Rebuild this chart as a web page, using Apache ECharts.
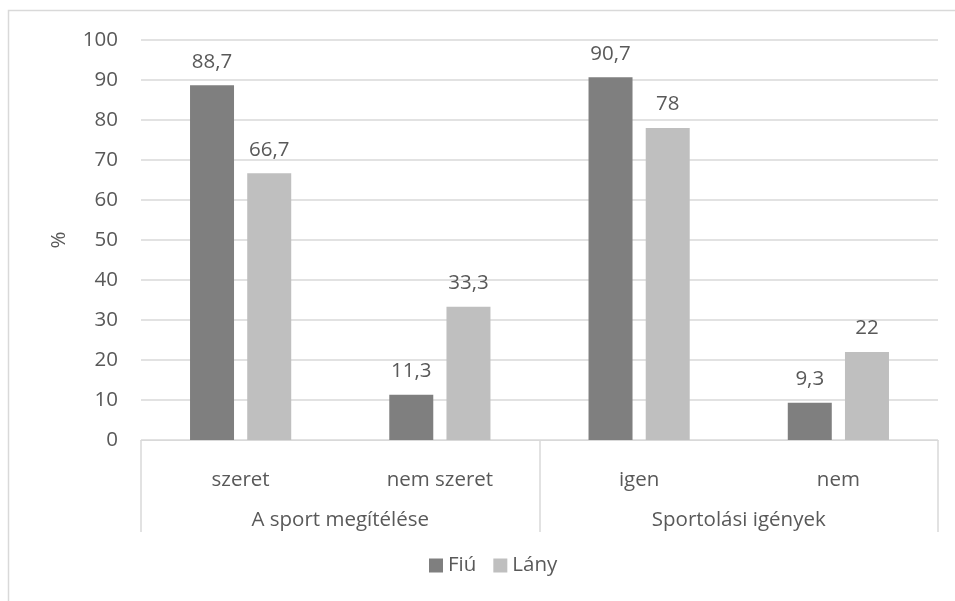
<!DOCTYPE html>
<html>
<head>
<meta charset="utf-8">
<script src="https://cdn.jsdelivr.net/npm/echarts@6/dist/echarts.min.js"></script>
<style>html,body{margin:0;padding:0;background:#fff;}#c{width:955px;height:601px;}</style>
</head>
<body>
<div id="c"></div>
<script>
const categories = ['szeret', 'nem szeret', 'igen', 'nem'];
const groups = ['A sport megítélése', 'Sportolási igények'];
const seriesNames = ['Fiú', 'Lány'];
const fiu = [88.7, 11.3, 90.7, 9.3];
const lany = [66.7, 33.3, 78, 22];
const yTicks = { min: 0, max: 100, interval: 10 };

const FONT = 'Open Sans';
const FS = 20.5;
const TXT = '#595959';
const GRID = '#d9d9d9';
const fmt = p => String(p.value).replace('.', ',');

const chart = echarts.init(document.getElementById('c'), null, { renderer: 'canvas' });
chart.setOption({
  animation: false,
  textStyle: { fontFamily: FONT },
  graphic: [{
    type: 'rect',
    shape: { x: 8.5, y: 10.5, width: 1000, height: 800 },
    style: { fill: 'none', stroke: GRID, lineWidth: 1.5 },
    silent: true
  }],
  grid: { left: 141, right: 17, top: 40, bottom: 161 },
  legend: {
    data: seriesNames,
    top: 555,
    left: 429,
    padding: 0,
    icon: 'rect',
    itemWidth: 14,
    itemHeight: 14,
    itemGap: 17,
    textStyle: { color: TXT, fontSize: FS, fontFamily: FONT }
  },
  xAxis: [{
    type: 'category',
    data: categories,
    axisLine: { show: true, lineStyle: { color: GRID, width: 1 } },
    axisTick: { show: false },
    axisLabel: { color: TXT, fontSize: FS, margin: 30, fontFamily: FONT }
  }, {
    type: 'category',
    data: groups,
    position: 'bottom',
    axisLine: { show: false },
    axisTick: { show: true, length: 92, interval: 0, lineStyle: { color: GRID, width: 1.5 } },
    axisLabel: { color: TXT, fontSize: FS, margin: 70, fontFamily: FONT }
  }],
  yAxis: {
    type: 'value',
    min: yTicks.min,
    max: yTicks.max,
    interval: yTicks.interval,
    name: '%',
    nameLocation: 'middle',
    nameGap: 71,
    nameRotate: 90,
    nameTextStyle: { color: TXT, fontSize: FS, fontFamily: FONT },
    axisLine: { show: false },
    axisTick: { show: false },
    axisLabel: { color: TXT, fontSize: FS, margin: 23, fontFamily: FONT },
    splitLine: { lineStyle: { color: GRID, width: 1.5 } }
  },
  series: [{
    name: seriesNames[0],
    type: 'bar',
    data: fiu,
    barWidth: 44,
    barGap: '30%',
    itemStyle: { color: '#7f7f7f' },
    label: { show: true, position: 'top', distance: 13, color: TXT, fontSize: FS, fontFamily: FONT, formatter: fmt }
  }, {
    name: seriesNames[1],
    type: 'bar',
    data: lany,
    barWidth: 44,
    barGap: '30%',
    itemStyle: { color: '#bfbfbf' },
    label: { show: true, position: 'top', distance: 13, color: TXT, fontSize: FS, fontFamily: FONT, formatter: fmt }
  }]
});
</script>
</body>
</html>
